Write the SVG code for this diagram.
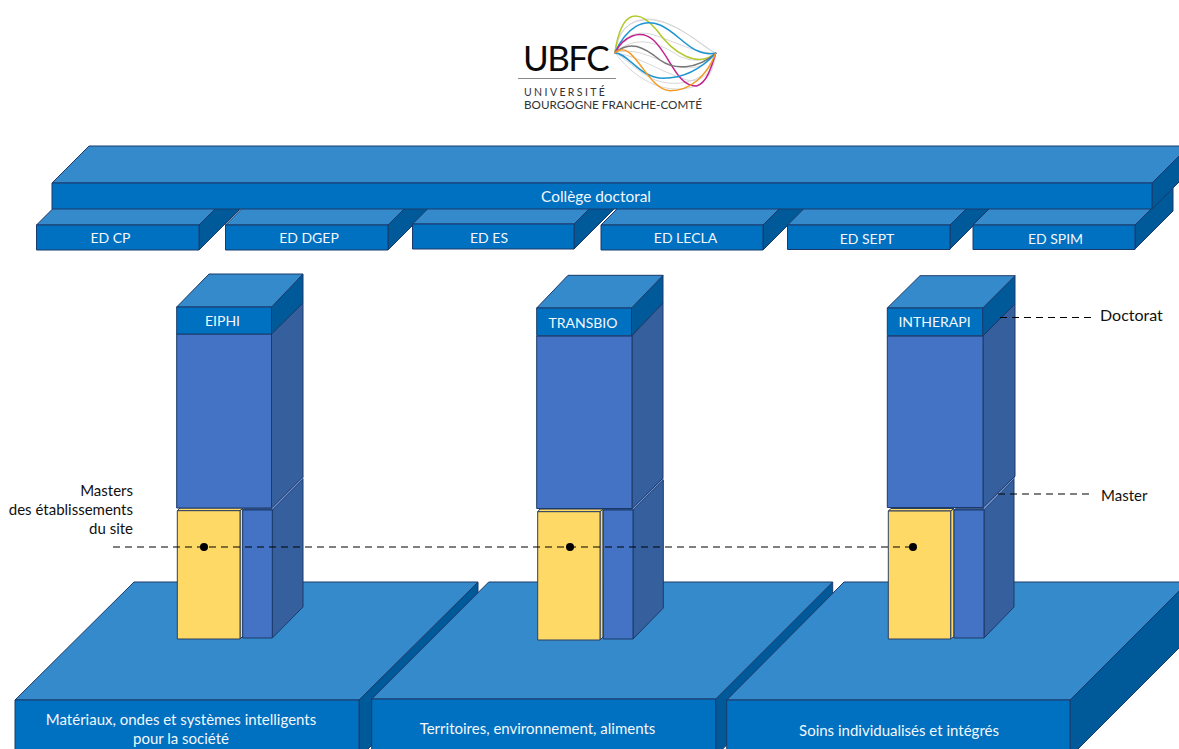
<svg xmlns="http://www.w3.org/2000/svg" width="1179" height="749" viewBox="0 0 1179 749">
<style>
.top{fill:#358acb;stroke:#1b3a6b;stroke-width:1;stroke-linejoin:round}
.front{fill:#0070c0;stroke:#1b3a6b;stroke-width:1;stroke-linejoin:round}
.side{fill:#005a9a;stroke:#1b3a6b;stroke-width:1;stroke-linejoin:round}
.body{fill:#4472c4;stroke:#1b3a6b;stroke-width:1;stroke-linejoin:round}
.bside{fill:#365f9d;stroke:#1b3a6b;stroke-width:1;stroke-linejoin:round}
.yel{fill:#ffd966;stroke:#2b3f63;stroke-width:1;stroke-linejoin:round}
.band{fill:#6f93d3;stroke:#1b3a6b;stroke-width:.6}
.w{font-family:"Lato","Noto Sans",sans-serif;fill:#f2f7fc;text-anchor:middle}
.s{font-size:14px}
.m{font-size:15px}
.k{font-family:"Lato","Noto Sans",sans-serif;fill:#111;font-size:15px}
.dash{stroke:#000;stroke-width:1.2;stroke-dasharray:7 5;fill:none}
.c{fill:none;stroke-width:4.5;stroke-linecap:round}
.g{fill:none;stroke:#d6d6d6;stroke-width:3}
</style>
<g id="logo">
<text x="523" y="71" style="font-family:Lato,'Noto Sans',sans-serif;font-weight:400;font-size:35px;letter-spacing:-1.6px;fill:#0a0a0a">UBFC</text>
<line x1="518" y1="78.5" x2="616" y2="78.5" stroke="#8a8a8a" stroke-width="1"/>
<text x="524" y="96" style="font-family:Lato,'Noto Sans',sans-serif;font-size:10.5px;letter-spacing:2.4px;fill:#333">UNIVERSITÉ</text>
<text x="524" y="109" style="font-family:Lato,'Noto Sans',sans-serif;font-size:11.7px;fill:#333">BOURGOGNE FRANCHE-COMTÉ</text>
<g transform="translate(500,0) scale(0.3333)">
<path class="g" d="M345,158C360,60 430,40 500,70C570,100 600,130 647,160"/>
<path class="g" d="M345,158C350,90 390,55 460,60C540,70 590,130 647,160"/>
<path class="g" d="M345,158C400,60 470,110 530,130C580,150 620,160 647,160"/>
<path class="g" d="M345,158C410,100 480,130 540,170C590,190 620,180 647,160"/>
<path class="g" d="M345,158C410,140 470,180 530,200C580,210 620,200 647,160"/>
<path class="g" d="M345,158C400,190 440,250 520,250C590,250 630,220 647,160"/>
<path class="g" d="M345,158C390,220 470,280 560,265C620,255 640,220 647,160"/>
<path class="g" d="M345,158C420,170 470,210 560,240C610,250 640,210 647,160"/>
<path class="c" stroke="#b5c92f" d="M345,158C365,20 420,30 470,90C520,160 590,205 647,160"/>
<path class="c" stroke="#1b94d2" d="M345,158C380,80 430,55 480,75C540,100 570,170 647,160"/>
<path class="c" stroke="#c2248f" d="M345,158C370,110 420,85 460,120C510,165 530,260 590,258C620,250 635,200 647,160"/>
<path class="c" stroke="#777" d="M345,158C390,120 430,140 480,180C520,210 590,210 647,160"/>
<path class="c" stroke="#1b94d2" d="M345,158C385,160 420,235 490,235C560,235 610,200 647,160"/>
<path class="c" stroke="#f39a1f" d="M345,158C400,110 440,270 510,272C570,272 620,230 647,160"/>
</g>
</g>
<g id="platform-1">
<path class="side" d="M359,700L478,582V639L359,758Z"/>
<path class="top" d="M15,700L134,582H478L359,700Z"/>
<rect class="front" x="15" y="700" width="344" height="60"/>
<text class="w m" x="181" y="725">Matériaux, ondes et systèmes intelligents</text>
<text class="w m" x="181" y="744">pour la société</text>
</g>
<g id="platform-2">
<path class="side" d="M715.7,699L832.7,582V639L715.7,756Z"/>
<path class="top" d="M371.7,699L488.7,582H832.7L715.7,699Z"/>
<rect class="front" x="371.7" y="699" width="344" height="60"/>
<text class="w m" x="537.5" y="734">Territoires, environnement, aliments</text>
</g>
<g id="platform-3">
<path class="side" d="M1070,700L1188,582V639L1070,757Z"/>
<path class="top" d="M726.7,700L844,582H1188L1070,700Z"/>
<rect class="front" x="726.7" y="700" width="343.3" height="60"/>
<text class="w m" x="899" y="736">Soins individualisés et intégrés</text>
</g>
<g id="column-eiphi">
<path class="bside" d="M272.3,510L303,479V607L272.3,638Z"/>
<path class="yel" d="M240,510.7L243,508V636L240,639Z"/>
<path class="yel" d="M177.3,510.7L180,508H243L240,510.7Z"/>
<rect class="yel" x="177.3" y="510.7" width="62.7" height="128.3"/>
<path class="body" d="M242.7,510L244,508.7H273.5L272.3,510Z"/>
<rect class="body" x="242.7" y="510" width="29.6" height="128"/>
<path class="band" d="M271.5,508L303,476.5V479L272.3,510Z"/>
<path class="bside" d="M271.5,334L303,303V476.5L271.5,508Z"/>
<rect class="body" x="176.7" y="334" width="94.8" height="174"/>
<path class="side" d="M271.5,307L303,274V303L271.5,334Z"/>
<path class="top" d="M176.7,307L209,274H303L271.5,307Z"/>
<rect class="front" x="176.7" y="307" width="94.8" height="27"/>
<text class="w s" x="222.5" y="326">EIPHI</text>
</g>
<g id="column-transbio">
<path class="bside" d="M633,510L663.3,480V608L633,639Z"/>
<path class="yel" d="M600,511.7L603,509V637L600,640Z"/>
<path class="yel" d="M537.7,511.7L540,509H603L600,511.7Z"/>
<rect class="yel" x="537.7" y="511.7" width="62.3" height="128.3"/>
<path class="body" d="M603.3,510L605,508.7H634.5L633,510Z"/>
<rect class="body" x="603.3" y="510" width="29.7" height="129"/>
<path class="band" d="M632,508.5L663,478V480L633,510Z"/>
<path class="bside" d="M632,336L663,303V478L632,508.5Z"/>
<rect class="body" x="536.7" y="336" width="95.3" height="172.5"/>
<path class="side" d="M631.5,308L663,275.3V303L631.5,335.7Z"/>
<path class="top" d="M536.7,308L568,275.3H663L631.5,308Z"/>
<rect class="front" x="536.7" y="308" width="94.8" height="27.7"/>
<text class="w s" x="583" y="328">TRANSBIO</text>
</g>
<g id="column-intherapi">
<path class="bside" d="M984,510L1014,479V607L984,638Z"/>
<path class="yel" d="M950.7,511L954,508.5V636.5L950.7,639Z"/>
<path class="yel" d="M888.3,511L891,508.5H954L950.7,511Z"/>
<rect class="yel" x="888.3" y="511" width="62.4" height="128"/>
<path class="body" d="M954,510L955.5,508.7H985.3L984,510Z"/>
<rect class="body" x="954" y="510" width="30" height="128"/>
<path class="band" d="M983,507.5L1015,476L1014,479L984,510Z"/>
<path class="bside" d="M983,336L1015,304V476L983,507.5Z"/>
<rect class="body" x="887.3" y="336" width="95.7" height="171.5"/>
<path class="side" d="M982.7,308L1015,275.7V304L982.7,335.7Z"/>
<path class="top" d="M887.3,308L920,275.7H1015L982.7,308Z"/>
<rect class="front" x="887.3" y="308" width="95.4" height="27.7"/>
<text class="w s" x="934.5" y="327">INTHERAPI</text>
</g>
<g id="ed-cp">
<path class="side" d="M199,225L240,184V209L199,250Z"/>
<path class="top" d="M36.5,225L77.5,184H240L199,225Z"/>
<rect class="front" x="36.5" y="225" width="162.5" height="25"/>
<text class="w s" x="110.5" y="243">ED CP</text>
</g>
<g id="ed-dgep">
<path class="side" d="M388,225L429,184V209L388,250Z"/>
<path class="top" d="M225.5,225L266.5,184H429L388,225Z"/>
<rect class="front" x="225.5" y="225" width="162.5" height="25"/>
<text class="w s" x="309" y="243">ED DGEP</text>
</g>
<g id="ed-es">
<path class="side" d="M574,224L615,183V208L574,249Z"/>
<path class="top" d="M412.5,224L453.5,183H615L574,224Z"/>
<rect class="front" x="412.5" y="224" width="161.5" height="25"/>
<text class="w s" x="489" y="243">ED ES</text>
</g>
<g id="ed-lecla">
<path class="side" d="M763,225L804,184V209L763,250Z"/>
<path class="top" d="M601,225L642,184H804L763,225Z"/>
<rect class="front" x="601" y="225" width="162" height="25"/>
<text class="w s" x="685.5" y="243">ED LECLA</text>
</g>
<g id="ed-sept">
<path class="side" d="M950,225L988,187V211L950,249Z"/>
<path class="top" d="M787.5,225L825.5,187H988L950,225Z"/>
<rect class="front" x="787.5" y="225" width="162.5" height="24.5"/>
<text class="w s" x="867" y="244">ED SEPT</text>
</g>
<g id="ed-spim">
<path class="side" d="M1135,225L1173,187V211L1135,249Z"/>
<path class="top" d="M973,225L1011,187H1173L1135,225Z"/>
<rect class="front" x="973" y="225" width="162" height="24.5"/>
<text class="w s" x="1055.5" y="244">ED SPIM</text>
</g>
<g id="college">
<path class="side" d="M1152,183L1189,146V172L1152,209Z"/>
<path class="top" d="M52,183L89,146H1189L1152,183Z"/>
<rect class="front" x="52" y="183" width="1100" height="26"/>
<text class="w" style="font-size:15.4px" x="596" y="201.5">Collège doctoral</text>
</g>
<g id="connectors">
<line class="dash" x1="113" y1="547" x2="913" y2="547"/>
<line class="dash" x1="1000" y1="317.5" x2="1092" y2="317.5"/>
<line class="dash" x1="998" y1="494" x2="1092" y2="494"/>
<circle cx="204" cy="547" r="4" fill="#000"/>
<circle cx="570" cy="547" r="4" fill="#000"/>
<circle cx="913" cy="547" r="4" fill="#000"/>
</g>
<g id="labels">
<text class="k" x="133" y="496" text-anchor="end">Masters</text>
<text class="k" x="133" y="515" text-anchor="end">des établissements</text>
<text class="k" x="133" y="534" text-anchor="end">du site</text>
<text class="k" style="font-size:16px" x="1100" y="321">Doctorat</text>
<text class="k" x="1101" y="501">Master</text>
</g>
</svg>
